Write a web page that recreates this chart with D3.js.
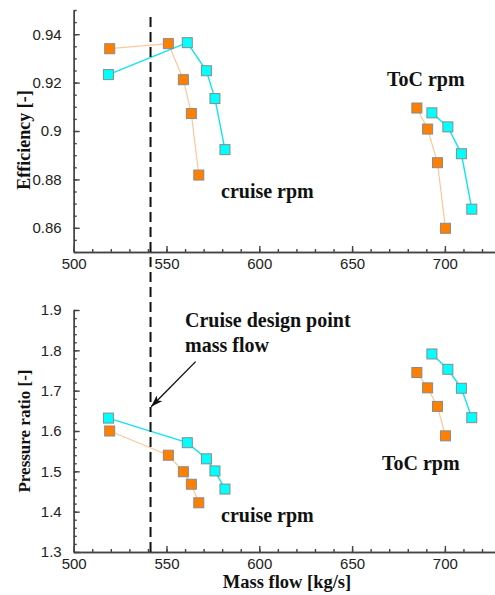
<!DOCTYPE html>
<html>
<head>
<meta charset="utf-8">
<script src="https://cdn.jsdelivr.net/npm/d3@7"></script>
<style>
  body { margin: 0; background: #fff; }
  svg { display: block; }
</style>
</head>
<body>
<div id="chart"></div>
<script>
const width = 495;
const height = 595;

// mass flow [kg/s]
const massCruiseOrange = [519.4, 551.0, 559.1, 563.4, 567.4];
const massCruiseCyan = [518.7, 561.2, 571.5, 576.1, 581.5];
const massTocOrange = [684.9, 690.7, 696.0, 700.3];
const massTocCyan = [693.0, 701.6, 708.9, 714.5];

// efficiency [-]
const effCruiseOrange = [0.9340, 0.9361, 0.9212, 0.9072, 0.8818];
const effCruiseCyan = [0.9233, 0.9365, 0.9249, 0.9134, 0.8923];
const effTocOrange = [0.9095, 0.9008, 0.8869, 0.8598];
const effTocCyan = [0.9075, 0.9017, 0.8906, 0.8677];

// pressure ratio [-]
const prCruiseOrange = [1.600, 1.540, 1.499, 1.468, 1.422];
const prCruiseCyan = [1.632, 1.571, 1.531, 1.501, 1.456];
const prTocOrange = [1.745, 1.707, 1.661, 1.588];
const prTocCyan = [1.791, 1.753, 1.706, 1.633];

const designMassFlow = 541.4;

const xTicks = [500, 550, 600, 650, 700];
const effTicks = [0.86, 0.88, 0.9, 0.92, 0.94];
const prTicks = [1.3, 1.4, 1.5, 1.6, 1.7, 1.8, 1.9];

const orange = "#ff7f00", orangeLine = "#fcc89a";
const cyan = "#00ffff", cyanLine = "#10e4f0";

const svg = d3.select("#chart").append("svg")
  .attr("width", width)
  .attr("height", height);

svg.append("defs").append("marker")
  .attr("id", "arrow")
  .attr("viewBox", "0 0 12 8")
  .attr("refX", 12).attr("refY", 4)
  .attr("markerWidth", 12).attr("markerHeight", 8)
  .attr("markerUnits", "userSpaceOnUse")
  .attr("orient", "auto")
  .append("path")
  .attr("d", "M0,0 L12,4 L0,8 L3,4 Z")
  .attr("fill", "#111");

const x = d3.scaleLinear().domain([500, 727]).range([73.7, 495]);
const yEff = d3.scaleLinear().domain([0.85, 0.95]).range([252, 10]);
const yPr = d3.scaleLinear().domain([1.3, 1.9]).range([552, 310]);

function drawPanel(y, yTicks, yMinor, yFmt, yLabel, yLabelCenter, yLabelSize, series) {
  const y0 = y.range()[0];
  const g = svg.append("g");

  // minor ticks
  g.append("g")
    .attr("class", "axis")
    .attr("transform", `translate(0,${y0})`)
    .call(d3.axisBottom(x).tickValues(d3.range(500, 727, 10)).tickSizeInner(-3).tickSizeOuter(0).tickFormat(""));
  g.append("g")
    .attr("class", "axis")
    .attr("transform", `translate(${x.range()[0]},0)`)
    .call(d3.axisLeft(y).tickValues(yMinor).tickSizeInner(-3).tickSizeOuter(0).tickFormat(""));

  // major ticks
  g.append("g")
    .attr("class", "axis")
    .attr("transform", `translate(0,${y0})`)
    .call(d3.axisBottom(x).tickValues(xTicks).tickSizeInner(-6).tickSizeOuter(0).tickPadding(6));
  g.append("g")
    .attr("class", "axis")
    .attr("transform", `translate(${x.range()[0]},0)`)
    .call(d3.axisLeft(y).tickValues(yTicks).tickSizeInner(-6).tickSizeOuter(0).tickPadding(12).tickFormat(yFmt));

  g.selectAll(".axis path, .axis line").attr("stroke", "#444").attr("stroke-width", 1.4);
  g.selectAll(".axis text")
    .attr("font-family", "Liberation Sans, Arial, sans-serif")
    .attr("font-size", 15)
    .attr("fill", "#222");

  g.append("text")
    .attr("transform", `translate(29.5,${yLabelCenter}) rotate(-90)`)
    .attr("text-anchor", "middle")
    .attr("font-family", "Liberation Serif, Times New Roman, serif")
    .attr("font-weight", "bold")
    .attr("font-size", yLabelSize)
    .attr("fill", "#111")
    .text(yLabel);

  series.forEach(s => {
    const pts = s.xs.map((m, i) => [m, s.ys[i]]);
    g.append("path")
      .datum(pts)
      .attr("fill", "none")
      .attr("stroke", s.line)
      .attr("stroke-width", s.lw)
      .attr("d", d3.line().x(d => x(d[0])).y(d => y(d[1])));
  });
  series.forEach(s => {
    const pts = s.xs.map((m, i) => [m, s.ys[i]]);
    g.selectAll(null)
      .data(pts)
      .enter()
      .append("rect")
      .attr("x", d => x(d[0]) - 5)
      .attr("y", d => y(d[1]) - 5)
      .attr("width", 10)
      .attr("height", 10)
      .attr("fill", s.fill)
      .attr("stroke", "#8a8a8a")
      .attr("stroke-width", 1);
  });
}

drawPanel(yEff, effTicks, d3.range(0.85, 0.9501, 0.005), d3.format(""),
  "Efficiency [-]", 140, 18, [
    { xs: massCruiseOrange, ys: effCruiseOrange, line: orangeLine, lw: 1.2, fill: orange },
    { xs: massCruiseCyan, ys: effCruiseCyan, line: cyanLine, lw: 1.4, fill: cyan },
    { xs: massTocOrange, ys: effTocOrange, line: orangeLine, lw: 1.2, fill: orange },
    { xs: massTocCyan, ys: effTocCyan, line: cyanLine, lw: 1.4, fill: cyan }
  ]);

drawPanel(yPr, prTicks, d3.range(1.3, 1.9001, 0.02), d3.format(".1f"),
  "Pressure ratio [-]", 431, 17, [
    { xs: massCruiseOrange, ys: prCruiseOrange, line: orangeLine, lw: 1.2, fill: orange },
    { xs: massCruiseCyan, ys: prCruiseCyan, line: cyanLine, lw: 1.4, fill: cyan },
    { xs: massTocOrange, ys: prTocOrange, line: orangeLine, lw: 1.2, fill: orange },
    { xs: massTocCyan, ys: prTocCyan, line: cyanLine, lw: 1.4, fill: cyan }
  ]);

// design point mass flow line
svg.append("line")
  .attr("x1", x(designMassFlow)).attr("x2", x(designMassFlow))
  .attr("y1", 17).attr("y2", yPr(1.3))
  .attr("stroke", "#111")
  .attr("stroke-width", 2)
  .attr("stroke-dasharray", "10,5");

// arrow to design line
svg.append("line")
  .attr("x1", x(565.7)).attr("y1", yPr(1.772))
  .attr("x2", x(designMassFlow + 0.3)).attr("y2", yPr(1.660))
  .attr("stroke", "#111")
  .attr("stroke-width", 1.4)
  .attr("marker-end", "url(#arrow)");

const notes = [
  { t: "ToC rpm", x: 387, y: 86 },
  { t: "cruise rpm", x: 221, y: 198 },
  { t: "Cruise design point", x: 185, y: 327 },
  { t: "mass flow", x: 185, y: 352 },
  { t: "ToC rpm", x: 382, y: 470 },
  { t: "cruise rpm", x: 221, y: 522 }
];
svg.selectAll(".note")
  .data(notes)
  .enter()
  .append("text")
  .attr("class", "note")
  .attr("x", d => d.x)
  .attr("y", d => d.y)
  .attr("font-family", "Liberation Serif, Times New Roman, serif")
  .attr("font-weight", "bold")
  .attr("font-size", 20)
  .attr("fill", "#111")
  .text(d => d.t);

svg.append("text")
  .attr("x", 287)
  .attr("y", 588)
  .attr("text-anchor", "middle")
  .attr("font-family", "Liberation Serif, Times New Roman, serif")
  .attr("font-weight", "bold")
  .attr("font-size", 18.5)
  .attr("fill", "#111")
  .text("Mass flow [kg/s]");
</script>
</body>
</html>
